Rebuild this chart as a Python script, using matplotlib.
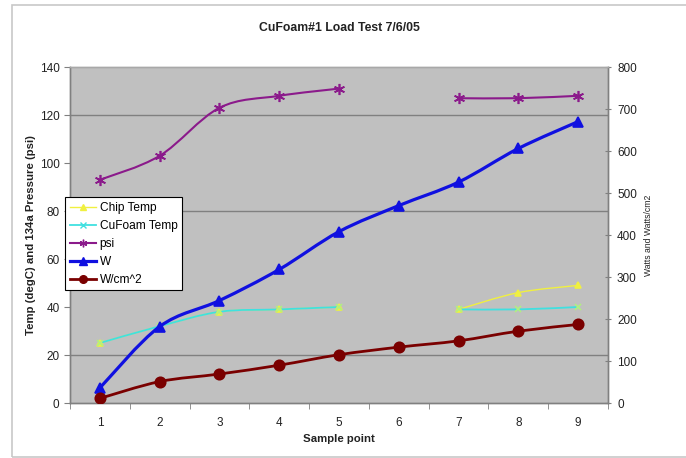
import numpy as np
import matplotlib
matplotlib.use("Agg")
import matplotlib.pyplot as plt
from matplotlib.path import Path
from matplotlib.patches import PathPatch, Rectangle
from matplotlib.lines import Line2D

plt.rcParams['font.family'] = ['Liberation Sans', 'DejaVu Sans']

# ---- data ----
samples = [1, 2, 3, 4, 5, 6, 7, 8, 9]
chip_temp = [25, 32, 38, 39, 40, np.nan, 39, 46, 49]
cufoam_temp = [25, 32, 38, 39, 40, np.nan, 39, 39, 40]
psi = [93, 103, 123, 128, 131, np.nan, 127, 127, 128]
watts = [36, 182, 244, 318, 408, 470, 526, 606, 670]
w_per_cm2 = [11, 51, 69, 90, 115, 133, 148, 171, 187]

title = "CuFoam#1 Load Test 7/6/05"
xlabel = "Sample point"
ylabel_left = "Temp (degC) and 134a Pressure (psi)"
ylabel_right = "Watts and Watts/cm2"
left_ticks = [0, 20, 40, 60, 80, 100, 120, 140]
right_ticks = [0, 100, 200, 300, 400, 500, 600, 700, 800]
grid_levels = [20, 80, 120]


def smooth_path(xs, ys):
    xs = np.asarray(xs, float)
    ys = np.asarray(ys, float)
    verts, codes = [], []
    ok = ~np.isnan(ys)
    i = 0
    n = len(xs)
    while i < n:
        if not ok[i]:
            i += 1
            continue
        j = i
        while j < n and ok[j]:
            j += 1
        pts = np.column_stack([xs[i:j], ys[i:j]])
        m = len(pts)
        verts.append(pts[0]); codes.append(Path.MOVETO)
        for k in range(m - 1):
            p0 = pts[k - 1] if k > 0 else pts[k]
            p1 = pts[k]
            p2 = pts[k + 1]
            p3 = pts[k + 2] if k + 2 < m else pts[k + 1]
            c1 = p1 + (p2 - p0) / 6.0
            c2 = p2 - (p3 - p1) / 6.0
            verts += [c1, c2, p2]
            codes += [Path.CURVE4] * 3
        i = j
    return Path(verts, codes)


W, H = 686, 458
fig = plt.figure(figsize=(W / 100, H / 100), dpi=100)
fig.patch.set_facecolor('white')
fig.add_artist(Rectangle((12 / W, 1 / H), (W - 12) / W + 0.01, (457 - 5) / H,
                         transform=fig.transFigure, fill=False,
                         edgecolor='#c8c8c8', lw=1.2))

ax1 = fig.add_axes([70 / W, 1 - 403 / H, (608 - 70) / W, (403 - 67) / H])
ax1.set_facecolor('#c0c0c0')
ax2 = ax1.twinx()
ax2.set_facecolor('none')

ax1.set_xlim(0.5, 9.5)
ax1.set_ylim(0, 140)
ax2.set_ylim(0, 800)

for g in grid_levels:
    ax1.axhline(g, color='#808080', lw=1.0, zorder=0.5)

series_left = [
    (chip_temp, '#f0f040', 1.0, '^', 4, 'Chip Temp'),
    (cufoam_temp, '#40e0e0', 1.3, 'x', 4, 'CuFoam Temp'),
    (psi, '#8b1a8b', 1.5, (6, 2, 0), 8, 'psi'),
]
series_right = [
    (watts, '#1010e0', 2.3, '^', 7.5, 'W'),
    (w_per_cm2, '#7a0000', 2.0, 'o', 7.5, 'W/cm^2'),
]

handles = []
for ax, group in ((ax1, series_left), (ax2, series_right)):
    for vals, col, lw, mk, ms, lab in group:
        ax.add_patch(PathPatch(smooth_path(samples, vals), fill=False,
                               edgecolor=col, lw=lw, zorder=3))
        mec = col
        if lab == 'CuFoam Temp':
            mec = '#b0f080'
        ax.plot(samples, vals, linestyle='none', marker=mk, ms=ms,
                color=col, mec=mec, mew=1.2, zorder=4)
        handles.append(Line2D([], [], color=col, lw=lw, marker=mk,
                              ms=min(ms, 5.5), mec=col, label=lab))

ax1.set_yticks(left_ticks)
ax2.set_yticks(right_ticks)
ax1.set_xticks(samples)
ax1.set_xticks(np.arange(0.5, 10, 1.0), minor=True)
ax1.tick_params(axis='x', which='major', length=0, pad=10, labelsize=8.5,
                colors='#222222')
ax1.tick_params(axis='x', which='minor', length=4, direction='out',
                color='#808080')
ax1.tick_params(axis='y', length=4, direction='out', color='#808080',
                labelsize=8.5, labelcolor='#222222')
ax2.tick_params(axis='y', length=5, direction='inout', color='#808080',
                labelsize=8.5, labelcolor='#222222', pad=4)

for ax in (ax1, ax2):
    for s in ax.spines.values():
        s.set_color('#808080')
        s.set_linewidth(1.0)
    ax.spines['top'].set_color('#a8a8a8')

ax1.set_title(title, fontsize=8.8, fontweight='bold', pad=26, color='#222222')
ax1.set_xlabel(xlabel, fontsize=8.2, fontweight='bold', labelpad=4,
               color='#222222')
ax1.set_ylabel(ylabel_left, fontsize=8.2, fontweight='bold', labelpad=3,
               color='#222222')
ax2.set_ylabel(ylabel_right, fontsize=6.2, labelpad=5, color='#222222')

leg = ax2.legend(handles=handles, loc='upper left',
                 bbox_to_anchor=(-0.0093, 0.613), fontsize=8.6,
                 frameon=True, fancybox=False, framealpha=1,
                 edgecolor='black', handlelength=2.2, handletextpad=0.3,
                 labelspacing=0.5, borderpad=0.4, borderaxespad=0)
leg.get_frame().set_linewidth(0.8)
leg.set_zorder(10)

fig.savefig('out.png', dpi=100)
